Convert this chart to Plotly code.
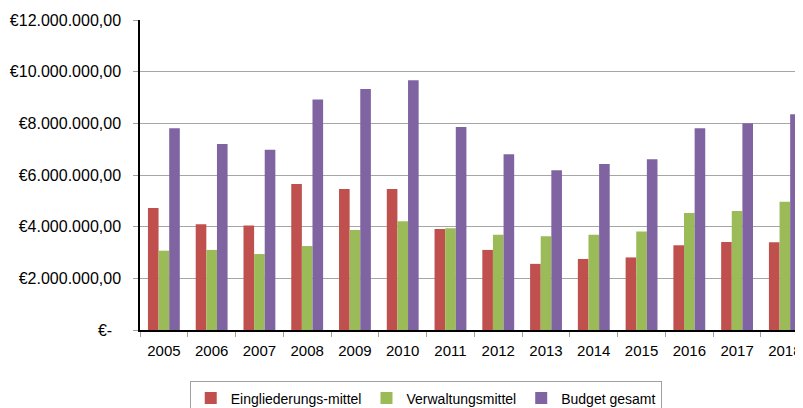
import plotly.graph_objects as go

# Jahre und Beträge (in Euro)
jahre = ['2005', '2006', '2007', '2008', '2009', '2010', '2011',
         '2012', '2013', '2014', '2015', '2016', '2017', '2018']
eingliederung = [4.72e6, 4.09e6, 4.05e6, 5.65e6, 5.46e6, 5.46e6, 3.91e6,
                 3.10e6, 2.56e6, 2.75e6, 2.81e6, 3.28e6, 3.41e6, 3.40e6]
verwaltung = [3.07e6, 3.10e6, 2.94e6, 3.25e6, 3.87e6, 4.21e6, 3.94e6,
              3.69e6, 3.63e6, 3.69e6, 3.81e6, 4.53e6, 4.61e6, 4.96e6]
budget = [7.81e6, 7.20e6, 6.98e6, 8.92e6, 9.33e6, 9.67e6, 7.86e6,
          6.80e6, 6.18e6, 6.43e6, 6.61e6, 7.81e6, 8.00e6, 8.35e6]

y_ticks = [0, 2e6, 4e6, 6e6, 8e6, 10e6, 12e6]
y_labels = ['€-\u00a0\u00a0', '€2.000.000,00', '€4.000.000,00', '€6.000.000,00',
            '€8.000.000,00', '€10.000.000,00', '€12.000.000,00']

fig = go.Figure()
fig.add_trace(go.Bar(x=jahre, y=eingliederung, name='Eingliederungs-mittel',
                     marker=dict(color='#C0504D', line=dict(width=0))))
fig.add_trace(go.Bar(x=jahre, y=verwaltung, name='Verwaltungsmittel',
                     marker=dict(color='#9BBB59', line=dict(width=0))))
fig.add_trace(go.Bar(x=jahre, y=budget, name='Budget gesamt',
                     marker=dict(color='#8064A2', line=dict(width=0))))

# die Seite hat 8px Rand, daher etwas kleiner
fig.update_layout(
    width=795, height=400,
    margin=dict(l=132, r=0, t=12, b=78, autoexpand=False),
    plot_bgcolor='white', paper_bgcolor='white',
    font=dict(family='Liberation Sans, Arial, sans-serif', size=15, color='black'),
    barmode='group', bargap=0.333, bargroupgap=0,
    showlegend=True,
    legend=dict(orientation='h', x=0.431, xanchor='center', y=-0.166, yanchor='top',
                bordercolor='#A0A0A0', borderwidth=1, font=dict(size=14),
                itemwidth=30, tracegroupgap=0),
)
fig.update_xaxes(
    type='category', range=[-0.5, 13.38], automargin=False,
    showline=True, linecolor='black', linewidth=1.5,
    ticks='outside', tickson='boundaries', ticklen=5, tickcolor='#A0A0A0',
    showgrid=False, ticklabelstandoff=6,
)
fig.update_yaxes(
    range=[0, 12e6], tickvals=y_ticks, ticktext=y_labels, automargin=False,
    showline=True, linecolor='black', linewidth=1.5,
    ticks='outside', ticklen=5, tickcolor='#A0A0A0', tickfont=dict(size=16),
    showgrid=True, gridcolor='#A6A6A6', gridwidth=1, zeroline=False,
    ticklabelstandoff=9,
)

fig.write_html('out.html')
